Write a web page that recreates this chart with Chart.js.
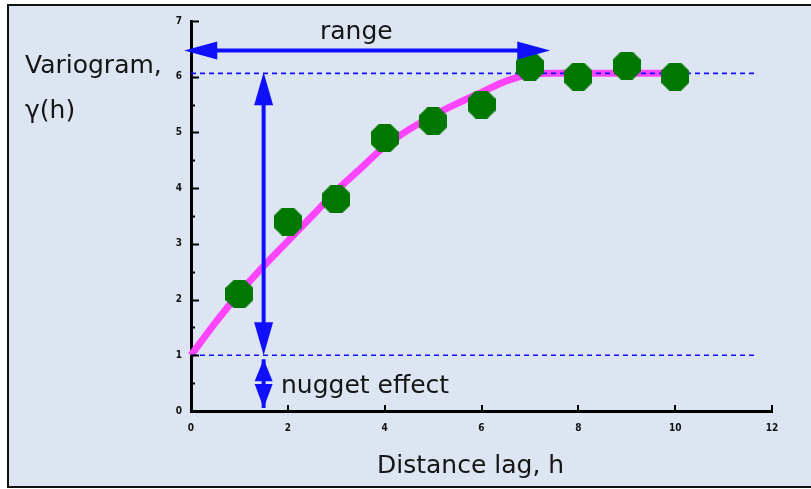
<!DOCTYPE html>
<html>
<head>
<meta charset="utf-8">
<script src="https://cdn.jsdelivr.net/npm/chart.js@4/dist/chart.umd.min.js"></script>
<style>
  html, body { margin: 0; padding: 0; background: #ffffff; }
  #wrap { position: relative; width: 811px; height: 489px; }
</style>
</head>
<body>
<div id="wrap"><canvas id="c" width="811" height="489"></canvas></div>
<script>
// Experimental variogram: lag distance vs semivariance
const lags = [1, 2, 3, 4, 5, 6, 7, 8, 9, 10];
const gammaObs = [2.1, 3.4, 3.8, 4.9, 5.2, 5.5, 6.18, 6.0, 6.2, 6.0];

// Fitted model curve
const modelLags = [0, 0.5, 1, 1.5, 2, 2.5, 3, 3.5, 4, 4.5, 5, 5.5, 6, 6.5, 7, 7.5, 8, 9, 10];
const modelGamma = [1.0, 1.58, 2.12, 2.6, 3.05, 3.5, 3.95, 4.35, 4.75, 5.05, 5.3, 5.52, 5.72, 5.92, 6.04, 6.06, 6.06, 6.06, 6.06];

// Sill and nugget reference levels, and the range
const sill = 6.06;
const nugget = 1.0;
const rangeLag = 7.42;
const rangeLevel = 6.47;
const guideLag = 1.5;
const dashedEnd = 11.7;

const xTicks = [0, 2, 4, 6, 8, 10, 12];
const yTicks = [0, 1, 2, 3, 4, 5, 6, 7];

const BG = '#dce5f1';
const BLUE = '#1010ff';
const GREEN = '#007800';
const TEXT_FONT = '25px "DejaVu Sans"';

// octagonal marker for the observed points
function octagon(d, color) {
  const c = document.createElement('canvas');
  c.width = d; c.height = d;
  const g = c.getContext('2d');
  const k = d * 0.29;
  g.fillStyle = color;
  g.beginPath();
  g.moveTo(k, 0); g.lineTo(d - k, 0); g.lineTo(d, k); g.lineTo(d, d - k);
  g.lineTo(d - k, d); g.lineTo(k, d); g.lineTo(0, d - k); g.lineTo(0, k);
  g.closePath();
  g.fill();
  return c;
}
const marker = octagon(28, GREEN);

function arrowHead(ctx, tipX, tipY, dx, dy, len, half) {
  const bx = tipX - dx * len, by = tipY - dy * len;
  const px = -dy, py = dx;
  ctx.beginPath();
  ctx.moveTo(tipX, tipY);
  ctx.lineTo(bx + px * half, by + py * half);
  ctx.lineTo(bx - px * half, by - py * half);
  ctx.closePath();
  ctx.fill();
}

const decor = {
  id: 'decor',
  beforeDraw(chart) {
    const ctx = chart.ctx;
    ctx.save();
    ctx.fillStyle = '#ffffff';
    ctx.fillRect(0, 0, chart.width, chart.height);
    ctx.fillStyle = BG;
    ctx.fillRect(8, 5, chart.width - 8, 482);
    ctx.strokeStyle = '#111111';
    ctx.lineWidth = 2;
    ctx.beginPath();
    ctx.moveTo(chart.width, 5);
    ctx.lineTo(8, 5);
    ctx.lineTo(8, 487);
    ctx.lineTo(chart.width, 487);
    ctx.stroke();
    ctx.restore();
  },
  afterDatasetsDraw(chart) {
    const ctx = chart.ctx;
    const xs = chart.scales.x, ys = chart.scales.y;
    const X = v => xs.getPixelForValue(v);
    const Y = v => ys.getPixelForValue(v);
    ctx.save();

    // inward tick marks
    ctx.strokeStyle = '#000';
    ctx.lineWidth = 2;
    const left = chart.chartArea.left, bottom = chart.chartArea.bottom;
    for (let v = 0; v <= 7; v += 0.5) {
      const len = Number.isInteger(v) ? 8 : 4;
      ctx.beginPath();
      ctx.moveTo(left, Math.round(Y(v)) + 0.5);
      ctx.lineTo(left + len, Math.round(Y(v)) + 0.5);
      ctx.stroke();
    }
    xTicks.forEach(v => {
      ctx.beginPath();
      ctx.moveTo(Math.round(X(v)), bottom);
      ctx.lineTo(Math.round(X(v)), bottom - 6);
      ctx.stroke();
    });

    // arrows
    ctx.strokeStyle = BLUE;
    ctx.fillStyle = BLUE;
    ctx.lineWidth = 4;
    // range arrow
    const ry = Y(rangeLevel);
    const rl = X(-0.14), rr = X(rangeLag);
    ctx.beginPath();
    ctx.moveTo(rl + 20, ry);
    ctx.lineTo(rr - 20, ry);
    ctx.stroke();
    arrowHead(ctx, rl, ry, -1, 0, 33, 9);
    arrowHead(ctx, rr, ry, 1, 0, 33, 9);

    // sill-to-nugget arrow
    const gx = X(guideLag);
    const top = Y(sill) - 1, mid = Y(nugget), base = Y(0);
    ctx.beginPath();
    ctx.moveTo(gx, top + 20);
    ctx.lineTo(gx, mid - 20);
    ctx.stroke();
    arrowHead(ctx, gx, top, 0, -1, 33, 9.5);
    arrowHead(ctx, gx, mid, 0, 1, 33, 9.5);

    // nugget double arrow
    ctx.beginPath();
    ctx.moveTo(gx, mid + 4);
    ctx.lineTo(gx, base - 3);
    ctx.stroke();
    arrowHead(ctx, gx, mid + 4, 0, -1, 22, 9);
    arrowHead(ctx, gx, base - 3, 0, 1, 24, 9);

    // labels
    ctx.fillStyle = '#151515';
    ctx.font = TEXT_FONT;
    ctx.textBaseline = 'alphabetic';
    ctx.textAlign = 'left';
    ctx.fillText('range', 320, 39);
    ctx.fillText('nugget effect', 281, 393);
    ctx.fillText('Variogram,', 25, 73);
    ctx.fillText('\u03b3(h)', 25, 118);
    ctx.fillText('Distance lag, h', 377, 473);
    ctx.restore();
  }
};

const tickFont = { family: '"DejaVu Sans Condensed", "Liberation Sans Narrow", "Liberation Sans"', size: 10, weight: 'bold' };

new Chart(document.getElementById('c'), {
  type: 'scatter',
  data: {
    datasets: [
      {
        label: 'observed',
        data: lags.map((h, i) => ({ x: h, y: gammaObs[i] })),
        backgroundColor: GREEN,
        borderColor: GREEN,
        borderWidth: 0,
        pointStyle: marker,
        pointRadius: 14,
        pointHoverRadius: 14,
        showLine: false,
        clip: false,
        order: 0
      },
      {
        label: 'sill',
        data: [{ x: 0, y: sill }, { x: dashedEnd, y: sill }],
        showLine: true,
        borderColor: BLUE,
        borderWidth: 1.6,
        borderDash: [5, 4],
        pointRadius: 0,
        clip: false,
        order: 1
      },
      {
        label: 'nugget',
        data: [{ x: 0, y: nugget }, { x: dashedEnd, y: nugget }],
        showLine: true,
        borderColor: BLUE,
        borderWidth: 1.6,
        borderDash: [5, 4],
        pointRadius: 0,
        clip: false,
        order: 1
      },
      {
        label: 'model',
        data: modelLags.map((h, i) => ({ x: h, y: modelGamma[i] })),
        showLine: true,
        borderColor: '#ff44ff',
        borderWidth: 7,
        cubicInterpolationMode: 'monotone',
        pointRadius: 0,
        clip: false,
        order: 3
      }
    ]
  },
  options: {
    responsive: false,
    animation: false,
    devicePixelRatio: 1,
    events: [],
    layout: { padding: { left: 0, top: 21, right: 39, bottom: 0 } },
    plugins: { legend: { display: false }, tooltip: { enabled: false } },
    scales: {
      x: {
        type: 'linear',
        min: 0, max: 12,
        afterFit(scale) { scale.height = 78; },
        afterBuildTicks(scale) { scale.ticks = xTicks.map(v => ({ value: v })); },
        grid: { display: false, drawTicks: false },
        border: { display: true, color: '#000', width: 3 },
        ticks: { color: '#111', font: tickFont, padding: 11, maxRotation: 0 }
      },
      y: {
        type: 'linear',
        min: 0, max: 7,
        afterFit(scale) { scale.width = 191; },
        afterBuildTicks(scale) { scale.ticks = yTicks.map(v => ({ value: v })); },
        grid: { display: false, drawTicks: false },
        border: { display: true, color: '#000', width: 3 },
        ticks: { color: '#111', font: tickFont, padding: 9 }
      }
    }
  },
  plugins: [decor]
});
</script>
</body>
</html>
